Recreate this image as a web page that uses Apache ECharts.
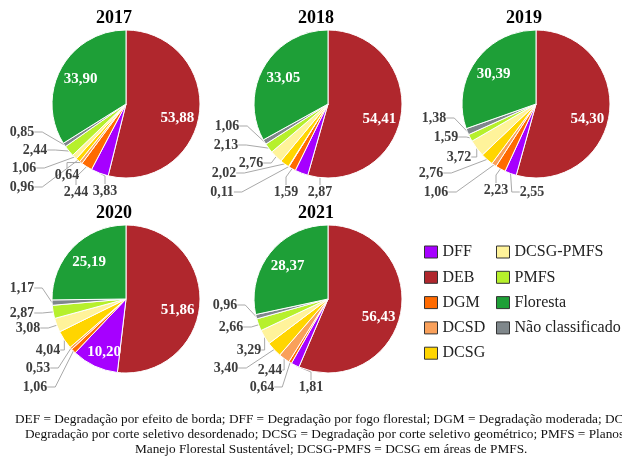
<!DOCTYPE html>
<html><head><meta charset="utf-8">
<script src="https://cdn.jsdelivr.net/npm/echarts@6/dist/echarts.min.js"></script>
<style>html,body{margin:0;padding:0;background:#fff}#c{width:622px;height:459px}</style>
</head><body><div id="c"></div>
<script>
// ---- data ----
const years = ['2017', '2018', '2019', '2020', '2021'];
const categories = ['DEB', 'DFF', 'DGM', 'DCSD', 'DCSG', 'DCSG-PMFS', 'PMFS', 'Não classificado', 'Floresta'];
const v2017 = [53.88, 3.83, 2.44, 0.64, 0.96, 1.06, 2.44, 0.85, 33.90];
const v2018 = [54.41, 2.87, 1.59, 0.11, 2.02, 2.76, 2.13, 1.06, 33.05];
const v2019 = [54.30, 2.55, 2.23, 1.06, 2.76, 3.72, 1.59, 1.38, 30.39];
const v2020 = [51.86, 10.20, 1.06, 0.53, 4.04, 3.08, 2.87, 1.17, 25.19];
const v2021 = [56.43, 1.81, 0.64, 2.44, 3.40, 3.29, 2.66, 0.96, 28.37];
const legendCol1 = ['DFF', 'DEB', 'DGM', 'DCSD', 'DCSG'];
const legendCol2 = ['DCSG-PMFS', 'PMFS', 'Floresta', 'Não classificado'];
const footnoteLines = [
  'DEF = Degradação por efeito de borda; DFF = Degradação por fogo florestal; DGM = Degradação moderada; DC',
  'Degradação por corte seletivo desordenado; DCSG = Degradação por corte seletivo geométrico; PMFS = Planos',
  'Manejo Florestal Sustentável; DCSG-PMFS = DCSG em áreas de PMFS.'
];

// ---- styles / layout ----
const colors = {
  'DEB': '#b0272d', 'DFF': '#a600ff', 'DGM': '#ff6a00', 'DCSD': '#f9a05a',
  'DCSG': '#ffd500', 'DCSG-PMFS': '#fff39a', 'PMFS': '#b6f02c',
  'Não classificado': '#7f878b', 'Floresta': '#1e9f37'
};
const values = [v2017, v2018, v2019, v2020, v2021];
const centers = [[126, 104], [328, 104], [536, 104], [126, 299], [328, 299]];
const R = 74;
// label offsets (relative to pie centre) for the small outside labels, by category index 1..7
const labelOffsets = [
  [null, [-21, 87], [-50, 88], [-59, 71], [-104, 83], [-102, 64], [-91, 46], [-104, 28], null],
  [null, [-8, 88], [-42, 88], [-106, 88], [-104, 69], [-77, 59], [-102, 41], [-101, 22], null],
  [null, [-4, 88], [-40, 86], [-100, 88], [-105, 69], [-77, 53], [-90, 33], [-102, 14], null],
  [null, null, [-91, 88], [-88, 69], [-78, 51], [-98, 29], [-104, 14], [-104, -11], null],
  [null, [-17, 88], [-66, 88], [-58, 71], [-102, 69], [-79, 51], [-97, 28], [-103, 6], null]
];
const serif = '"Liberation Serif", "Times New Roman", serif';
const fmt = v => v.toFixed(2).replace('.', ',');
const isInside = v => v >= 10;

const series = years.map((y, si) => {
  const vals = values[si];
  const total = vals.reduce((a, b) => a + b, 0);
  return {
    type: 'pie',
    name: y,
    center: centers[si],
    radius: [0, R],
    startAngle: 90,
    clockwise: true,
    avoidLabelOverlap: false,
    animation: false,
    itemStyle: { borderColor: '#ffffff', borderWidth: 1 },
    label: {
      show: true, position: 'outside', formatter: p => fmt(p.value),
      fontFamily: serif, fontWeight: 'bold', fontSize: 14, color: '#3d3d3d'
    },
    labelLine: { show: true, length: 8, length2: 8, lineStyle: { color: '#a9a9a9', width: 1 } },
    data: categories.map((c, i) => {
      const d = { name: c, value: vals[i], itemStyle: { color: colors[c] } };
      if (isInside(vals[i])) {
        d.label = { position: 'inside', color: '#ffffff', fontSize: 15 };
        d.labelLine = { show: false };
      }
      return d;
    }),
    labelLayout: p => {
      const i = p.dataIndex;
      const v = vals[i];
      const [cx, cy] = centers[si];
      if (isInside(v)) {
        let cum = 0;
        for (let k = 0; k < i; k++) cum += vals[k];
        const th = (cum + v / 2) / total * Math.PI * 2;
        const k = 0.7;
        const dy = categories[i] === 'Floresta' ? 0 : (i === 0 ? 8 : 6);
        return { x: cx + Math.sin(th) * R * k, y: cy - Math.cos(th) * R * k + dy, align: 'center', verticalAlign: 'middle' };
      }
      const o = labelOffsets[si][i];
      if (!o) return {};
      return { x: cx + o[0], y: cy + o[1], align: 'center', verticalAlign: 'middle' };
    }
  };
});

const titles = years.map((y, si) => ({
  type: 'text', left: centers[si][0] - 30, top: centers[si][1] - 95,
  style: { text: y, x: 30, textAlign: 'center', font: 'bold 18px ' + serif, fill: '#000' }
}));

const footGraphics = footnoteLines.map((t, i) => ({
  type: 'text', left: [15, 25, 135][i], top: 413 + i * 15,
  style: { text: t, font: '13.3px ' + serif, fill: '#111' }
}));

const legendCommon = {
  orient: 'vertical', top: 244, itemWidth: 13, itemHeight: 12, itemGap: 9.3,
  icon: 'rect', selectedMode: false,
  itemStyle: { borderColor: '#333', borderWidth: 1 },
  textStyle: { fontFamily: serif, fontSize: 16, color: '#222', lineHeight: 16 },
  padding: 0
};

const chart = echarts.init(document.getElementById('c'), null, { renderer: 'canvas' });
chart.setOption({
  backgroundColor: '#ffffff',
  animation: false,
  legend: [
    Object.assign({}, legendCommon, { left: 424, data: legendCol1 }),
    Object.assign({}, legendCommon, { left: 496, data: legendCol2 })
  ],
  graphic: titles.concat(footGraphics),
  series: series
});
</script></body></html>
